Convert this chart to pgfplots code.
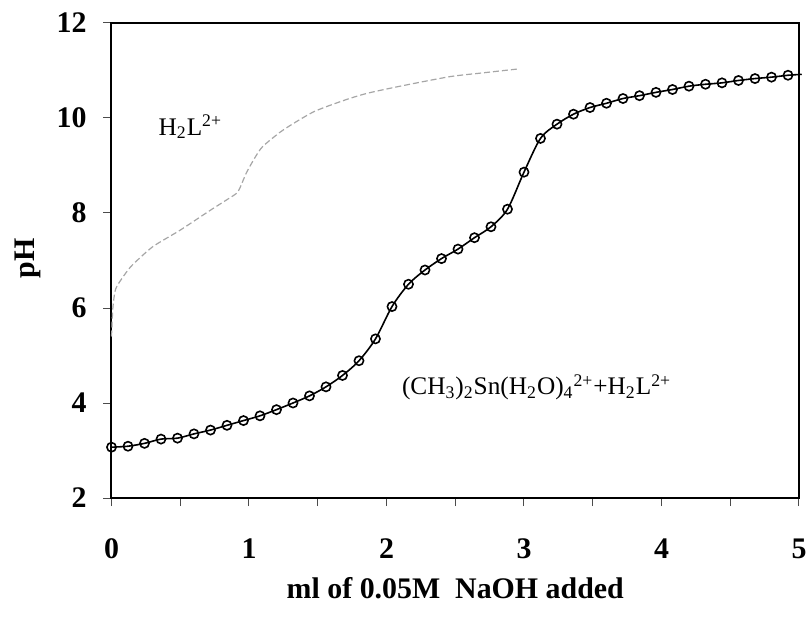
\documentclass[border=0pt]{standalone}
\usepackage{fontspec}
\setmainfont{Liberation Serif}
\usepackage{pgfplots}
\usepackage{pgfplotstable}
\pgfplotsset{compat=1.18}
\pgfplotstableread{
x    ph
0.00 3.07
0.12 3.09
0.24 3.15
0.36 3.24
0.48 3.26
0.60 3.35
0.72 3.43
0.84 3.53
0.96 3.63
1.08 3.73
1.20 3.86
1.32 4.00
1.44 4.15
1.56 4.34
1.68 4.58
1.80 4.89
1.92 5.35
2.04 6.03
2.16 6.50
2.28 6.80
2.40 7.04
2.52 7.24
2.64 7.48
2.76 7.71
2.88 8.08
3.00 8.86
3.12 9.57
3.24 9.87
3.36 10.08
3.48 10.22
3.60 10.31
3.72 10.41
3.84 10.47
3.96 10.54
4.08 10.60
4.20 10.67
4.32 10.71
4.44 10.74
4.56 10.79
4.68 10.83
4.80 10.86
4.92 10.90
}\complexdata
\pgfplotstableread{
x    ph
0.00 5.40
0.01 6.00
0.03 6.40
0.09 6.68
0.15 6.90
0.30 7.29
0.50 7.64
0.72 8.06
0.85 8.30
0.92 8.45
0.98 8.84
1.04 9.15
1.10 9.40
1.25 9.75
1.47 10.13
1.70 10.38
1.86 10.52
2.10 10.67
2.46 10.87
2.70 10.95
2.95 11.03
}\liganddata
\begin{document}
\begin{tikzpicture}
\path[use as bounding box] (-55.75bp,-60bp) rectangle (348.25bp,249bp);
\begin{axis}[
  at={(0,0)}, anchor=south west,
  scale only axis, width=343.75bp, height=237.5bp,
  xmin=0, xmax=5, ymin=2, ymax=12,
  xtick={0,1,2,3,4,5}, minor x tick num=1,
  ytick={2,4,6,8,10,12},
  tick align=outside, tick pos=left,
  major tick length=4bp, minor tick length=4bp,
  every tick/.style={black!70, line width=0.5bp},
  axis line style={line width=1bp},
  /pgf/number format/assume math mode=true,
  ticklabel style={font=\fontsize{15}{18}\selectfont\bfseries},
  xticklabel style={anchor=north, yshift=-13bp},
  yticklabel style={anchor=east, xshift=-5bp},
  xlabel={ml of 0.05M\ \ NaOH added},
  ylabel={pH},
  label style={font=\fontsize{15}{18}\selectfont\bfseries},
  xlabel style={at={(axis description cs:0.5,0)}, anchor=center, yshift=-45bp},
  ylabel style={at={(axis description cs:-0.122,0.505)}, anchor=center, rotate=0},
  clip=false,
]
\addplot[black!35, line width=0.6bp, dash pattern=on 3bp off 1.5bp, smooth, tension=0.4] table[x=x,y=ph] {\liganddata};
\addplot[black, line width=0.8bp, smooth, tension=0.5] table[x=x,y=ph] {\complexdata};
\addplot[black, line width=0.8bp] coordinates {(4.92,10.90) (5.02,10.92)};
\addplot[only marks, mark=o, mark size=2.3bp, mark options={black, line width=0.8bp}] table[x=x,y=ph] {\complexdata};
\node[anchor=base west, font=\fontsize{12.7}{15}\selectfont, inner sep=0pt] at (axis cs:0.34,9.64) {H\textsubscript{2}L\textsuperscript{2+}};
\node[anchor=base west, font=\fontsize{12.7}{15}\selectfont, inner sep=0pt] at (axis cs:2.11,4.17) {(CH\textsubscript{3})\textsubscript{2}Sn(H\textsubscript{2}O)\textsubscript{4}\textsuperscript{2+}+H\textsubscript{2}L\textsuperscript{2+}};
\end{axis}
\end{tikzpicture}
\end{document}
